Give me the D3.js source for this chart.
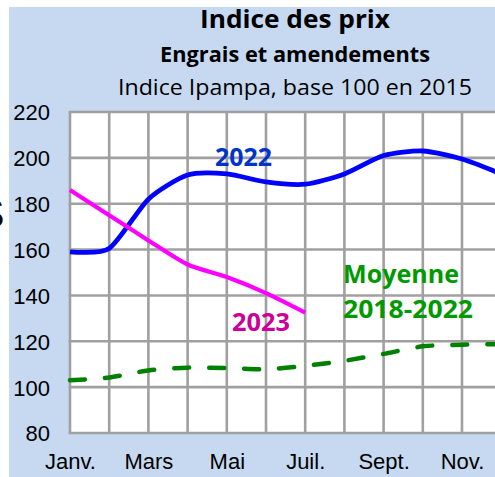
<!DOCTYPE html>
<html>
<head>
<meta charset="utf-8">
<script src="https://cdn.jsdelivr.net/npm/d3@7"></script>
<style>
  body { margin: 0; background: #fff; }
  svg { display: block; }
</style>
</head>
<body>
<script>
// months (Janv. .. Déc.), only every other one gets a label
var months = ["Janv.", "Févr.", "Mars", "Avr.", "Mai", "Juin", "Juil.", "Août", "Sept.", "Oct.", "Nov.", "Déc."];
var monthLabels = ["Janv.", "Mars", "Mai", "Juil.", "Sept.", "Nov."];
var yTicks = [80, 100, 120, 140, 160, 180, 200, 220];

// series
var values2022 = [159, 160.5, 182, 192.5, 193, 189.5, 188.5, 193, 201, 203, 199.5, 193];
var values2023 = [186, 175, 164, 153.5, 148, 141, 132.5];
var valuesMoy = [103, 104.2, 107.3, 108.5, 108.3, 107.8, 109.3, 111.5, 114.5, 117.8, 118.5, 118.8];

var W = 495, H = 477;
var margin = {top: 112, left: 70, bottom: 44};

var svg = d3.select("body").append("svg")
    .attr("width", W)
    .attr("height", H);

// light blue chart area
svg.append("rect")
    .attr("x", 9).attr("y", 7)
    .attr("width", W - 9).attr("height", H - 7)
    .attr("fill", "#c6d9f0");

// fragment of a neighbouring label, cut at the left edge
svg.append("text")
    .attr("x", -23.5).attr("y", 228)
    .attr("font-family", "Liberation Sans, Arial, sans-serif")
    .attr("font-size", 42)
    .attr("fill", "#000")
    .text("S");

var x = d3.scaleLinear()
    .domain([0, 11])
    .range([margin.left, margin.left + 11 * 39.2]);

var y = d3.scaleLinear()
    .domain([80, 220])
    .range([H - margin.bottom, margin.top]);

// white plot background
svg.append("rect")
    .attr("x", x(0)).attr("y", y(220))
    .attr("width", x(11) - x(0)).attr("height", y(80) - y(220))
    .attr("fill", "#fff");

// grid
var grid = svg.append("g")
    .attr("stroke", "#a0a0a0")
    .attr("stroke-width", 2.6);

grid.selectAll(".v")
    .data(d3.range(months.length))
    .enter().append("line")
    .attr("x1", d => x(d)).attr("x2", d => x(d))
    .attr("y1", y(220)).attr("y2", y(80));

grid.selectAll(".h")
    .data(yTicks)
    .enter().append("line")
    .attr("x1", x(0) - 1.3).attr("x2", x(11))
    .attr("y1", d => y(d)).attr("y2", d => y(d));

// y axis labels
svg.append("g")
    .attr("transform", "translate(" + (x(0) - 20) + ",0)")
    .call(d3.axisLeft(y).tickValues(yTicks).tickSize(0).tickFormat(d3.format("d")))
    .call(g => g.select(".domain").remove())
    .selectAll("text")
    .attr("x", 0)
    .attr("dy", "0.36em")
    .attr("font-family", "Liberation Sans, Arial, sans-serif")
    .attr("font-size", 22)
    .attr("fill", "#000");

// x axis labels
svg.append("g")
    .attr("transform", "translate(0," + y(80) + ")")
    .call(d3.axisBottom(x)
        .tickValues(monthLabels.map(m => months.indexOf(m)))
        .tickSize(0)
        .tickFormat(i => months[i]))
    .call(g => g.select(".domain").remove())
    .selectAll("text")
    .attr("y", 36)
    .attr("dy", 0)
    .attr("font-family", "Liberation Sans, Arial, sans-serif")
    .attr("font-size", 22)
    .attr("fill", "#000");

// smoothed lines, close to the spreadsheet's smoothing
var line = d3.line()
    .x((d, i) => x(i))
    .y(d => y(d))
    .curve(d3.curveCardinal.tension(0.3));

svg.append("path")
    .datum(valuesMoy)
    .attr("d", line)
    .attr("fill", "none")
    .attr("stroke", "#008000")
    .attr("stroke-width", 4.5)
    .attr("stroke-dasharray", "15,20")
    .attr("stroke-linecap", "round");

svg.append("path")
    .datum(values2022)
    .attr("d", line)
    .attr("fill", "none")
    .attr("stroke", "#0000ff")
    .attr("stroke-width", 4.8);

svg.append("path")
    .datum(values2023)
    .attr("d", line)
    .attr("fill", "none")
    .attr("stroke", "#ff00ff")
    .attr("stroke-width", 4.2);

// series labels
var lab = svg.append("g")
    .attr("font-family", "Open Sans, sans-serif")
    .attr("font-weight", "bold")
    .attr("font-size", 25);

lab.append("text").attr("x", 215).attr("y", 166)
    .attr("textLength", 57).attr("lengthAdjust", "spacingAndGlyphs")
    .attr("fill", "#0033cc").text("2022");
lab.append("text").attr("x", 232).attr("y", 331)
    .attr("textLength", 58).attr("lengthAdjust", "spacingAndGlyphs")
    .attr("fill", "#cc0099").text("2023");
lab.append("text").attr("x", 343).attr("y", 283)
    .attr("textLength", 116).attr("lengthAdjust", "spacingAndGlyphs")
    .attr("fill", "#009900").text("Moyenne");
lab.append("text").attr("x", 343).attr("y", 318)
    .attr("textLength", 130).attr("lengthAdjust", "spacingAndGlyphs")
    .attr("fill", "#009900").text("2018-2022");

// titles
var titles = svg.append("g")
    .attr("font-family", "Open Sans, sans-serif")
    .attr("fill", "#000");

titles.append("text").attr("x", 200).attr("y", 28)
    .attr("font-weight", "bold").attr("font-size", 25)
    .attr("textLength", 190).attr("lengthAdjust", "spacingAndGlyphs")
    .text("Indice des prix");
titles.append("text").attr("x", 160).attr("y", 62)
    .attr("font-weight", "bold").attr("font-size", 21)
    .attr("textLength", 270).attr("lengthAdjust", "spacingAndGlyphs")
    .text("Engrais et amendements");
titles.append("text").attr("x", 118).attr("y", 95)
    .attr("font-size", 21)
    .attr("textLength", 354).attr("lengthAdjust", "spacingAndGlyphs")
    .text("Indice Ipampa, base 100 en 2015");
</script>
</body>
</html>
